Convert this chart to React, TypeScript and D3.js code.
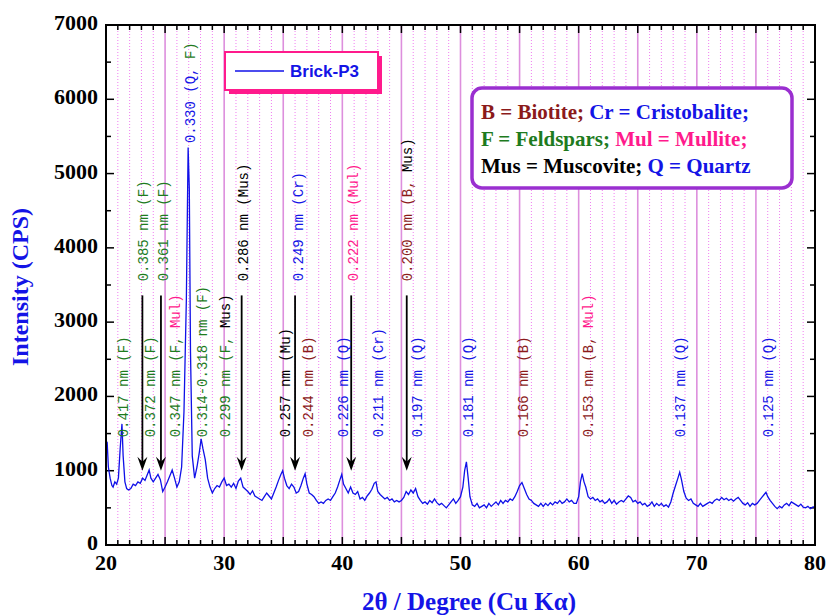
import React from 'react';
import * as d3 from 'd3';

const W = 828;
const H = 616;
const margin = { top: 25, right: 13, bottom: 71, left: 106 };

const xTicks = [20, 30, 40, 50, 60, 70, 80];
const yTicks = [0, 1000, 2000, 3000, 4000, 5000, 6000, 7000];

// 2theta (deg), intensity (CPS)
const pattern: [number, number][] = [
  [20.0, 1400], [20.1, 1380], [20.2, 1050], [20.35, 900], [20.5, 800], [20.6, 780], [20.75, 850], [20.9, 820],
  [21.05, 900], [21.2, 1300], [21.35, 1630], [21.45, 1200], [21.6, 850], [21.75, 760], [21.9, 740], [22.1, 760],
  [22.3, 820], [22.5, 800], [22.7, 850], [22.9, 830], [23.1, 900], [23.3, 870], [23.5, 950], [23.65, 1010],
  [23.8, 900], [24.0, 850], [24.2, 900], [24.4, 950], [24.6, 880], [24.8, 720], [25.0, 780], [25.2, 850],
  [25.45, 950], [25.6, 1010], [25.8, 900], [26.0, 780], [26.2, 850], [26.4, 1050], [26.6, 1800], [26.8, 3300],
  [26.95, 5350], [27.05, 4800], [27.15, 2600], [27.3, 1200], [27.5, 900], [27.7, 1050], [27.9, 1250], [28.05, 1430],
  [28.2, 1300], [28.4, 1150], [28.6, 900], [28.8, 780], [29.0, 700], [29.2, 760], [29.4, 800], [29.6, 780],
  [29.8, 850], [30.0, 900], [30.2, 800], [30.4, 820], [30.6, 780], [30.8, 830], [31.0, 760], [31.2, 860],
  [31.4, 900], [31.6, 780], [31.8, 750], [32.0, 720], [32.2, 680], [32.4, 730], [32.6, 660], [32.8, 640],
  [33.0, 620], [33.2, 600], [33.4, 650], [33.6, 700], [33.8, 660], [34.0, 620], [34.2, 700], [34.4, 780],
  [34.6, 870], [34.8, 950], [34.95, 1000], [35.1, 900], [35.3, 800], [35.5, 760], [35.7, 820], [35.9, 780],
  [36.1, 700], [36.3, 720], [36.5, 800], [36.7, 900], [36.85, 960], [37.0, 820], [37.2, 700], [37.4, 680],
  [37.6, 650], [37.8, 600], [38.0, 560], [38.2, 580], [38.4, 560], [38.6, 600], [38.8, 620], [39.0, 600],
  [39.2, 650], [39.4, 700], [39.6, 780], [39.8, 880], [39.95, 950], [40.1, 820], [40.3, 760], [40.5, 700],
  [40.7, 780], [40.9, 700], [41.1, 680], [41.3, 720], [41.5, 620], [41.7, 640], [41.9, 600], [42.1, 660],
  [42.3, 700], [42.5, 750], [42.7, 830], [42.85, 850], [43.0, 720], [43.2, 680], [43.4, 650], [43.6, 620],
  [43.8, 640], [44.0, 600], [44.2, 620], [44.4, 580], [44.6, 600], [44.8, 580], [45.0, 600], [45.2, 640],
  [45.4, 720], [45.6, 680], [45.8, 740], [46.0, 700], [46.2, 760], [46.4, 650], [46.6, 600], [46.8, 560],
  [47.0, 580], [47.2, 550], [47.4, 600], [47.6, 570], [47.8, 620], [48.0, 570], [48.2, 540], [48.4, 560],
  [48.6, 530], [48.8, 500], [49.0, 540], [49.2, 580], [49.4, 620], [49.6, 560], [49.8, 600], [50.0, 650],
  [50.2, 780], [50.35, 1000], [50.5, 1120], [50.65, 900], [50.8, 650], [51.0, 540], [51.2, 520], [51.4, 560],
  [51.6, 500], [51.8, 520], [52.0, 540], [52.2, 500], [52.4, 560], [52.6, 520], [52.8, 550], [53.0, 580],
  [53.2, 540], [53.4, 600], [53.6, 560], [53.8, 600], [54.0, 580], [54.2, 620], [54.4, 600], [54.6, 650],
  [54.8, 720], [55.0, 800], [55.2, 840], [55.4, 760], [55.6, 680], [55.8, 620], [56.0, 600], [56.2, 560],
  [56.4, 540], [56.6, 520], [56.8, 560], [57.0, 520], [57.2, 560], [57.4, 530], [57.6, 570], [57.8, 540],
  [58.0, 580], [58.2, 560], [58.4, 600], [58.6, 560], [58.8, 580], [59.0, 620], [59.2, 580], [59.4, 600],
  [59.6, 560], [59.8, 560], [60.0, 650], [60.15, 850], [60.3, 960], [60.45, 850], [60.6, 780], [60.8, 650],
  [61.0, 620], [61.2, 640], [61.4, 600], [61.6, 620], [61.8, 580], [62.0, 600], [62.2, 560], [62.4, 580],
  [62.6, 620], [62.8, 560], [63.0, 600], [63.2, 550], [63.4, 580], [63.6, 600], [63.8, 580], [64.0, 620],
  [64.2, 660], [64.4, 640], [64.6, 580], [64.8, 600], [65.0, 560], [65.2, 580], [65.4, 540], [65.6, 560],
  [65.8, 520], [66.0, 540], [66.2, 580], [66.4, 520], [66.6, 560], [66.8, 530], [67.0, 560], [67.2, 520],
  [67.4, 540], [67.6, 510], [67.8, 580], [68.0, 700], [68.2, 800], [68.4, 900], [68.55, 980], [68.7, 880],
  [68.9, 720], [69.1, 630], [69.3, 600], [69.5, 620], [69.7, 560], [69.9, 540], [70.1, 520], [70.3, 560],
  [70.5, 520], [70.7, 540], [70.9, 560], [71.1, 580], [71.3, 560], [71.5, 600], [71.7, 620], [71.9, 600],
  [72.1, 640], [72.3, 610], [72.5, 630], [72.7, 600], [72.9, 620], [73.1, 590], [73.3, 620], [73.5, 640],
  [73.7, 600], [73.9, 560], [74.1, 540], [74.3, 570], [74.5, 520], [74.7, 560], [74.9, 540], [75.1, 560],
  [75.3, 600], [75.5, 640], [75.7, 680], [75.85, 710], [76.0, 650], [76.2, 600], [76.4, 560], [76.6, 520],
  [76.8, 490], [77.0, 520], [77.2, 500], [77.4, 540], [77.6, 560], [77.8, 530], [78.0, 580], [78.2, 560],
  [78.4, 540], [78.6, 520], [78.8, 550], [79.0, 510], [79.2, 500], [79.4, 520], [79.6, 490], [79.8, 510],
  [80.0, 515],
];

const BLUE = '#1414e6';
const GREEN = '#1e7b1e';
const RED = '#8b1a1a';
const PINK = '#ff1a8c';
const BLACK = '#000000';

// d-spacing labels: position (2theta), intensity where text starts, coloured pieces
const peakLabels: { pos: number; base: number; parts: [string, string][] }[] = [
  { pos: 21.42, base: 1450, parts: [['0.417 nm (F)', GREEN]] },
  { pos: 23.1, base: 3550, parts: [['0.385 nm (F)', GREEN]] },
  { pos: 24.8, base: 3550, parts: [['0.361 nm (F)', GREEN]] },
  { pos: 23.72, base: 1450, parts: [['0.372 nm (F)', GREEN]] },
  { pos: 25.84, base: 1450, parts: [['0.347 nm (F, ', GREEN], ['Mul)', PINK]] },
  { pos: 27.1, base: 5410, parts: [['0.330 (Q, ', BLUE], ['F)', GREEN]] },
  { pos: 28.12, base: 1450, parts: [['0.314-0.318 nm (F)', GREEN]] },
  { pos: 30.07, base: 1450, parts: [['0.299 nm (F, ', GREEN], ['Mus)', BLACK]] },
  { pos: 31.6, base: 3550, parts: [['0.286 nm (Mus)', BLACK]] },
  { pos: 35.15, base: 1450, parts: [['0.257 nm (Mu)', BLACK]] },
  { pos: 36.25, base: 3550, parts: [['0.249 nm (Cr)', BLUE]] },
  { pos: 37.1, base: 1450, parts: [['0.244 nm (B)', RED]] },
  { pos: 40.06, base: 1450, parts: [['0.226 nm (Q)', BLUE]] },
  { pos: 40.9, base: 3550, parts: [['0.222 nm (Mul)', PINK]] },
  { pos: 43.0, base: 1450, parts: [['0.211 nm (Cr)', BLUE]] },
  { pos: 45.47, base: 3550, parts: [['0.200 nm (B, ', RED], ['Mus)', BLACK]] },
  { pos: 46.3, base: 1450, parts: [['0.197 nm (Q)', BLUE]] },
  { pos: 50.63, base: 1450, parts: [['0.181 nm (Q)', BLUE]] },
  { pos: 55.29, base: 1450, parts: [['0.166 nm (B)', RED]] },
  { pos: 60.79, base: 1450, parts: [['0.153 nm (B, ', RED], ['Mul)', PINK]] },
  { pos: 68.57, base: 1450, parts: [['0.137 nm (Q)', BLUE]] },
  { pos: 76.02, base: 1450, parts: [['0.125 nm (Q)', BLUE]] },
];

const arrowPositions = [23.08, 24.65, 31.48, 36.0, 40.75, 45.45];
const arrowFrom = 3360;
const arrowTo = 1000;

const phaseLegend: [string, string][][] = [
  [['B = Biotite; ', RED], ['Cr = Cristobalite;', BLUE]],
  [['F = Feldspars; ', GREEN], ['Mul = Mullite;', PINK]],
  [['Mus = Muscovite; ', BLACK], ['Q = Quartz', BLUE]],
];

const serif = '"Liberation Serif", "Times New Roman", serif';

export default function App() {
  const x = d3.scaleLinear().domain([20, 80]).range([margin.left, W - margin.right]);
  const y = d3.scaleLinear().domain([0, 7000]).range([H - margin.bottom, margin.top]);
  const [x0, x1] = x.range();
  const [yb, yt] = y.range();

  const line = d3.line<[number, number]>()
    .x(d => x(d[0]))
    .y(d => y(d[1]));

  const degs = d3.range(21, 80);
  const yMinor = d3.range(500, 7000, 500);

  return (
    <svg width={W} height={H} style={{ position: 'absolute', left: 0, top: 0, background: '#fff' }}>
      {/* vertical grid */}
      {degs.map(d => (
        <line key={'g' + d} x1={x(d)} x2={x(d)} y1={yt} y2={yb}
          stroke={d % 5 === 0 ? '#dd8fdd' : '#f07ef0'}
          strokeWidth={d % 5 === 0 ? 1.6 : 1}
          strokeDasharray={d % 5 === 0 ? undefined : '1,2'} />
      ))}

      {/* ticks */}
      {degs.map(d => {
        const len = d % 5 === 0 ? 8 : 5;
        return (
          <g key={'t' + d} stroke="#000" strokeWidth={1.5}>
            <line x1={x(d)} x2={x(d)} y1={yb} y2={yb - len} />
            <line x1={x(d)} x2={x(d)} y1={yt} y2={yt + len} />
          </g>
        );
      })}
      {yMinor.map(v => {
        const len = v % 1000 === 0 ? 8 : 5;
        return (
          <g key={'yt' + v} stroke="#000" strokeWidth={1.5}>
            <line x1={x0} x2={x0 + len} y1={y(v)} y2={y(v)} />
            <line x1={x1} x2={x1 - len} y1={y(v)} y2={y(v)} />
          </g>
        );
      })}

      {/* pattern */}
      <path d={line(pattern) || ''} fill="none" stroke="#1010e8" strokeWidth={1.3} />

      {/* frame */}
      <rect x={x0} y={yt} width={x1 - x0} height={yb - yt} fill="none" stroke="#000" strokeWidth={2} />

      {/* tick labels */}
      {xTicks.map(t => (
        <text key={'xl' + t} x={x(t)} y={yb + 20} textAnchor="middle" dominantBaseline="middle"
          fontFamily={serif} fontWeight="bold" fontSize={22}>{t}</text>
      ))}
      {yTicks.map(t => (
        <text key={'yl' + t} x={x0 - 8} y={y(t)} textAnchor="end" dominantBaseline="middle"
          fontFamily={serif} fontWeight="bold" fontSize={22}>{t}</text>
      ))}

      {/* axis titles */}
      <text x={469} y={604} textAnchor="middle" dominantBaseline="middle" fontFamily={serif}
        fontWeight="bold" fontSize={25} fill={BLUE}>2θ / Degree (Cu Kα)</text>
      <text transform="translate(22,287) rotate(-90)" textAnchor="middle"
        dominantBaseline="middle" fontFamily={serif} fontWeight="bold" fontSize={24} fill={BLUE}>
        Intensity (CPS)
      </text>

      {/* arrows */}
      {arrowPositions.map(p => {
        const ax = x(p);
        const tip = y(arrowTo);
        return (
          <g key={'a' + p}>
            <line x1={ax} x2={ax} y1={y(arrowFrom)} y2={tip - 6} stroke="#000" strokeWidth={1.8} />
            <path d={`M${ax},${tip} L${ax - 5},${tip - 14} L${ax},${tip - 9} L${ax + 5},${tip - 14} Z`} fill="#000" />
          </g>
        );
      })}

      {/* peak labels */}
      {peakLabels.map((l, i) => (
        <text key={'pl' + i} transform={`translate(${x(l.pos)},${y(l.base)}) rotate(-90)`} dy="0.35em"
          fontFamily='"Liberation Mono", "Courier New", monospace' fontSize={14}>
          {l.parts.map(([s, c], j) => (
            <tspan key={j} fill={c}>{s}</tspan>
          ))}
        </text>
      ))}

      {/* sample legend */}
      <rect x={229} y={56} width={153} height={38} fill={PINK} />
      <rect x={225} y={52} width={153} height={38} fill="#fff" stroke={PINK} strokeWidth={2} />
      <line x1={235} x2={284} y1={71} y2={71} stroke="#1010e8" strokeWidth={1.5} />
      <text x={290} y={77} fontFamily='"Liberation Sans", Arial, sans-serif' fontWeight="bold"
        fontSize={17} fill={BLUE}>Brick-P3</text>

      {/* phase legend */}
      <rect x={472} y={88} width={320} height={100} rx={10} fill="#fff" stroke="#9a2fd0" strokeWidth={3.5} />
      {phaseLegend.map((row, i) => (
        <text key={'pg' + i} x={481} y={119 + i * 27} fontFamily={serif} fontWeight="bold" fontSize={21}>
          {row.map(([s, c], j) => (
            <tspan key={j} fill={c}>{s}</tspan>
          ))}
        </text>
      ))}
    </svg>
  );
}
